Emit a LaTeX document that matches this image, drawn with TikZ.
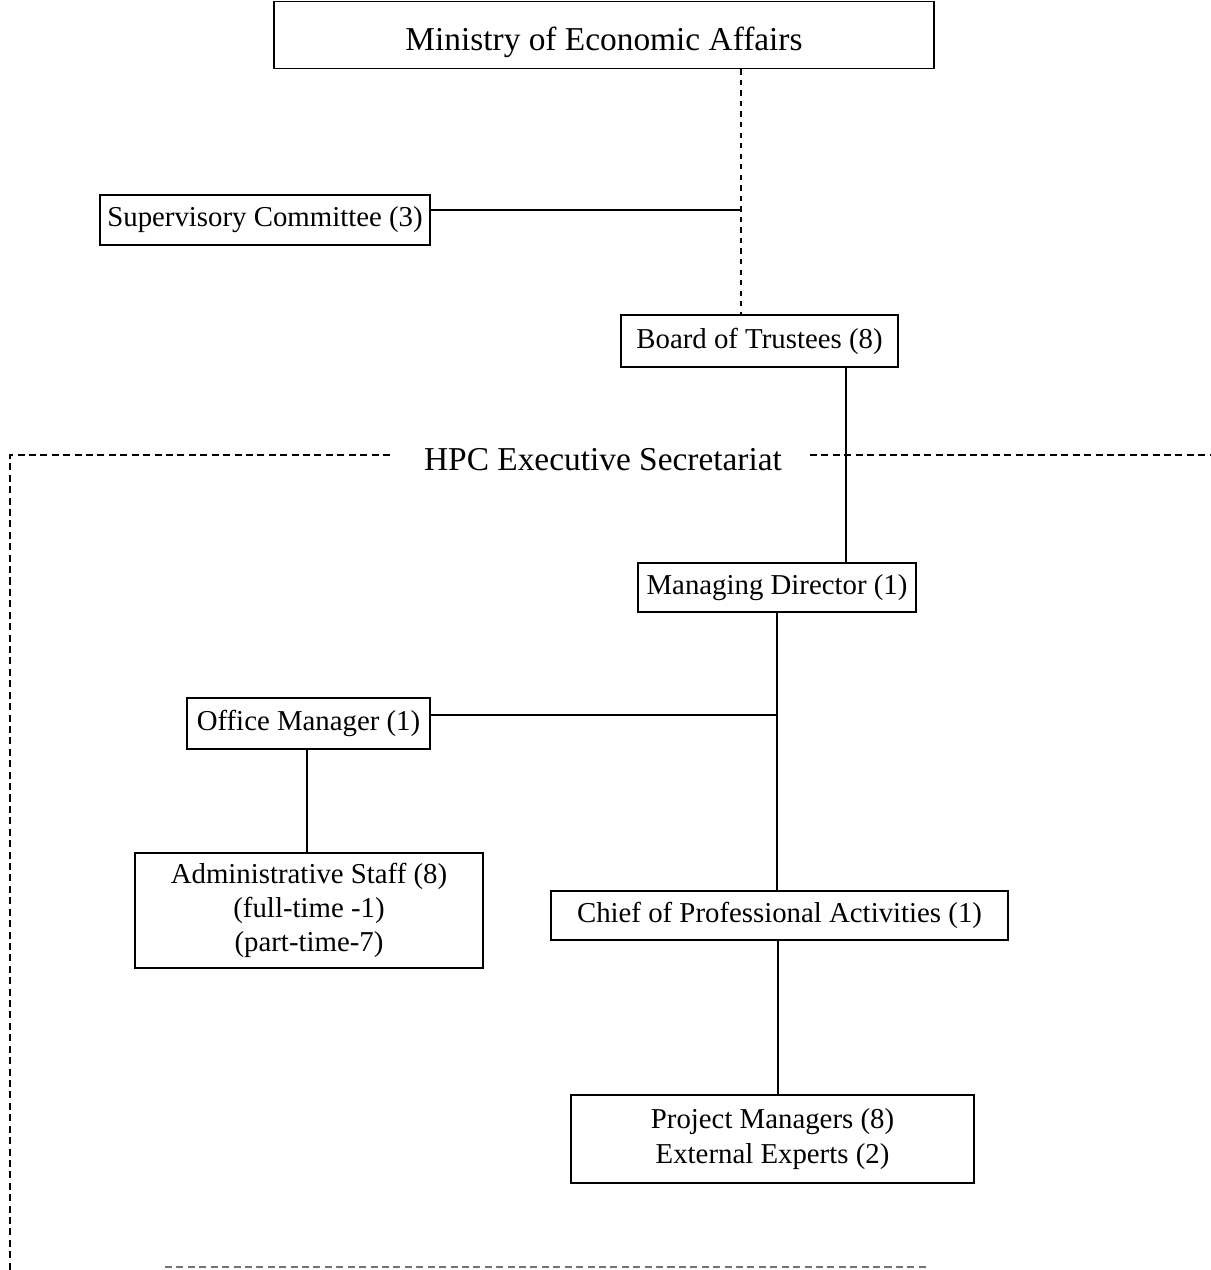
\documentclass[tikz,border=0pt]{standalone}
\usepackage{fontspec}
\setmainfont{Liberation Serif}
\usepackage{tikz}
\usetikzlibrary{positioning, calc}

\tikzset{
  orgbox/.style={draw, line width=0.9pt, inner sep=2pt, align=center,
                 font=\fontsize{16.4}{19.5}\selectfont},
  linkline/.style={line width=0.9pt},
  framedash/.style={line width=0.7pt, dash pattern=on 4pt off 2.5pt}
}

\begin{document}
\begin{tikzpicture}[x=0.02cm, y=-0.02cm]
  \useasboundingbox (0,0) rectangle (1210,1270);

  %% boxes
  \node[orgbox, minimum width=13.2cm, minimum height=1.34cm,
        text height=18pt, text depth=0pt,
        font=\fontsize{19}{22}\selectfont] (ministry) at (604,35)
    {Ministry of Economic Affairs};
  \node[orgbox, minimum width=6.6cm, minimum height=1.0cm] (supcom) at (265,220)
    {Supervisory Committee (3)};
  \node[orgbox, minimum width=5.54cm, minimum height=1.04cm] (board) at (759.5,341)
    {Board of Trustees (8)};
  \node[orgbox, minimum width=5.56cm, minimum height=0.98cm] (mdir) at (777,587.5)
    {Managing Director (1)};
  \node[orgbox, minimum width=4.86cm, minimum height=1.02cm] (offmgr) at (308.5,723.5)
    {Office Manager (1)};
  \node[orgbox, minimum width=6.96cm, minimum height=2.3cm] (adminstaff) at (309,910.5)
    {Administrative Staff (8)\\(full-time -1)\\(part-time-7)};
  \node[orgbox, minimum width=9.14cm, minimum height=0.98cm] (chief) at (779.5,915.5)
    {Chief of Professional Activities (1)};
  \node[orgbox, minimum width=8.06cm, minimum height=1.76cm] (projmgr) at (772.5,1139)
    {Project Managers (8)\\External Experts (2)};

  %% secretariat frame
  \node[font=\fontsize{19}{22}\selectfont] (hpc) at (603,460) {HPC Executive Secretariat};
  \draw[framedash] (390,455) -- (10,455) -- (10,1270);
  \draw[framedash] (810,455) -- (1210,455);
  \draw[framedash, black!55] (165,1267) -- (930,1267);

  %% connectors
  \coordinate (jsup) at (741,210);
  \coordinate (jbrd) at (846,0);
  \coordinate (joff) at (777,715);
  \coordinate (jadm) at (307,0);
  \coordinate (jprj) at (778,0);
  \draw[linkline, dashed] (jsup |- ministry.south) -- (jsup |- board.north);
  \draw[linkline] (supcom.east |- jsup) -- (jsup);
  \draw[linkline] (jbrd |- board.south) -- (jbrd |- mdir.north);
  \draw[linkline] (mdir.south) -- (mdir.south |- chief.north);
  \draw[linkline] (offmgr.east |- joff) -- (joff);
  \draw[linkline] (jadm |- offmgr.south) -- (jadm |- adminstaff.north);
  \draw[linkline] (jprj |- chief.south) -- (jprj |- projmgr.north);
\end{tikzpicture}
\end{document}
